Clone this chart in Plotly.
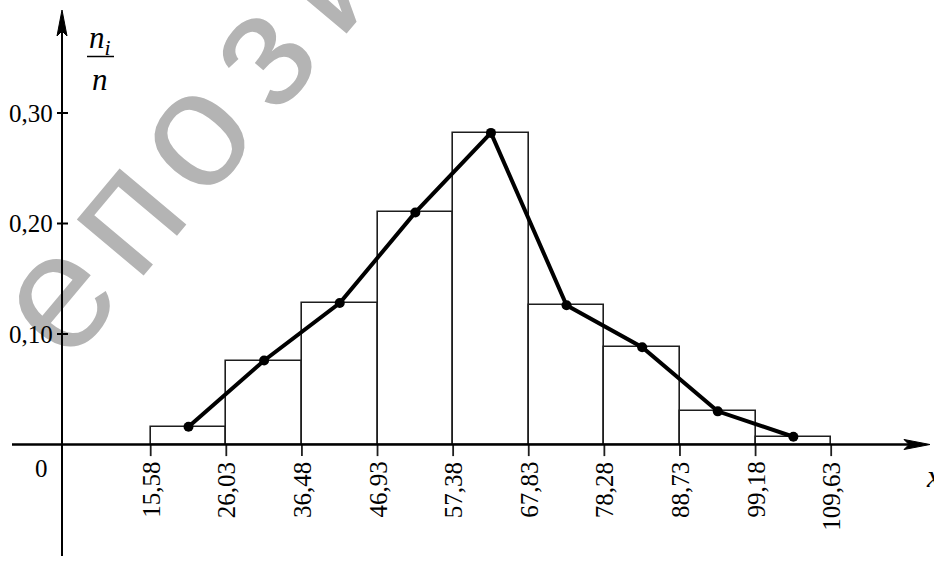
import plotly.graph_objects as go

# Interval boundaries of the grouped sample and their printed labels
edges = [15.58, 26.03, 36.48, 46.93, 57.38, 67.83, 78.28, 88.73, 99.18, 109.63]
edge_labels = ["15,58", "26,03", "36,48", "46,93", "57,38",
               "67,83", "78,28", "88,73", "99,18", "109,63"]

# Relative frequencies n_i / n for each interval
rel_freq = [0.016, 0.076, 0.128, 0.210, 0.282, 0.126, 0.088, 0.030, 0.007]

# Vertical axis ticks
y_ticks = [0.10, 0.20, 0.30]
y_tick_labels = ["0,10", "0,20", "0,30"]

# Background watermark letters
watermark = ["е", "п", "о", "з", "и"]

W, H = 934, 561
mids = [(a + b) / 2 for a, b in zip(edges[:-1], edges[1:])]
widths = [b - a for a, b in zip(edges[:-1], edges[1:])]

SERIF = "Times New Roman, Liberation Serif, Tinos, DejaVu Serif, serif"
INK = "#000000"


def px(x):
    return x / W


def py(y):
    return 1 - y / H


fig = go.Figure()

# Histogram of relative frequencies (outlined rectangles)
fig.add_trace(go.Bar(
    x=mids, y=rel_freq, width=widths,
    marker=dict(color="rgba(0,0,0,0)", line=dict(color="#1e1e1e", width=1.6)),
    hoverinfo="skip", showlegend=False,
))

# Frequency polygon through the interval midpoints
fig.add_trace(go.Scatter(
    x=mids, y=rel_freq, mode="lines+markers",
    line=dict(color=INK, width=4),
    marker=dict(color=INK, size=10),
    hoverinfo="skip", showlegend=False,
))

shapes = []
# watermark letters, carried as labels of invisible shapes below everything else
wm_pos = [(41, 284), (109, 203), (177, 122), (245, 41), (313, -40)]
for ch, (wx, wy) in zip(watermark, wm_pos):
    shapes.append(dict(
        type="rect", xref="paper", yref="paper", layer="below",
        x0=px(wx - 4), x1=px(wx + 4), y0=py(wy + 4), y1=py(wy - 4),
        line=dict(width=0), fillcolor="rgba(0,0,0,0)",
        label=dict(text=ch, textangle=-50, textposition="middle center",
                   font=dict(family="Liberation Sans, Arial, sans-serif", size=165,
                             color="#b4b4b4")),
    ))

# tick marks under the horizontal axis at every interval boundary
for e in edges:
    shapes.append(dict(type="line", xref="x", yref="y", x0=e, x1=e, y0=0, y1=-0.0105,
                       layer="above", line=dict(color="#1e1e1e", width=1.8)))
# horizontal axis with arrowhead
ax_y = 444.5
shapes.append(dict(type="line", xref="paper", yref="y", x0=px(12), x1=px(910), y0=0, y1=0,
                   layer="above", line=dict(color=INK, width=2.5)))
shapes.append(dict(type="path", xref="paper", yref="paper", layer="above",
                   path=f"M{px(930)},{py(ax_y)} L{px(904)},{py(ax_y - 5)} L{px(909)},{py(ax_y)} "
                        f"L{px(904)},{py(ax_y + 5)} Z",
                   fillcolor=INK, line=dict(color=INK, width=1)))
# vertical axis with arrowhead
shapes.append(dict(type="line", xref="paper", yref="paper", x0=px(62), x1=px(62),
                   y0=py(556), y1=py(30), layer="above", line=dict(color=INK, width=2)))
shapes.append(dict(type="path", xref="paper", yref="paper", layer="above",
                   path=f"M{px(62)},{py(10)} L{px(57)},{py(36)} L{px(62)},{py(31)} "
                        f"L{px(67)},{py(36)} Z",
                   fillcolor=INK, line=dict(color=INK, width=1)))
# vertical axis tick marks
for v in y_ticks:
    shapes.append(dict(type="line", xref="paper", yref="y", x0=px(57), x1=px(68), y0=v, y1=v,
                       layer="above", line=dict(color=INK, width=2)))
# fraction bar of the axis title
shapes.append(dict(type="line", xref="paper", yref="paper", x0=px(87), x1=px(114),
                   y0=py(56.5), y1=py(56.5), layer="above", line=dict(color=INK, width=1.5)))

annotations = []
for v, lab in zip(y_ticks, y_tick_labels):
    annotations.append(dict(
        text=lab, xref="paper", yref="y", x=px(55), y=v,
        xanchor="right", yanchor="middle", showarrow=False,
        font=dict(family=SERIF, size=25, color=INK),
    ))

# interval boundary labels, rotated
for e, lab in zip(edges, edge_labels):
    annotations.append(dict(
        text=lab, xref="x", yref="paper", x=e, y=py(460),
        xanchor="center", yanchor="top", showarrow=False, textangle=-90,
        font=dict(family=SERIF, size=25, color=INK),
    ))

# origin label
annotations.append(dict(text="0", xref="paper", yref="paper", x=px(41), y=py(468),
                        xanchor="center", yanchor="middle", showarrow=False,
                        font=dict(family=SERIF, size=25, color=INK)))
# axis titles
annotations.append(dict(text="<i>n</i><sub><i>i</i></sub>", xref="paper", yref="paper",
                        x=px(100), y=py(40), xanchor="center", yanchor="middle", showarrow=False,
                        font=dict(family=SERIF, size=31, color=INK)))
annotations.append(dict(text="<i>n</i>", xref="paper", yref="paper",
                        x=px(100), y=py(80), xanchor="center", yanchor="middle", showarrow=False,
                        font=dict(family=SERIF, size=31, color=INK)))
annotations.append(dict(text="<i>x</i>", xref="paper", yref="paper",
                        x=px(924), y=py(476), xanchor="left", yanchor="middle", showarrow=False,
                        font=dict(family=SERIF, size=31, color=INK)))

fig.update_layout(
    width=W, height=H,
    margin=dict(l=0, r=0, t=0, b=0),
    paper_bgcolor="white", plot_bgcolor="white",
    font=dict(family=SERIF),
    xaxis=dict(range=[-5.249, 123.84], visible=False, fixedrange=True),
    yaxis=dict(range=[-0.10543, 0.40226], visible=False, fixedrange=True),
    bargap=0,
    shapes=shapes,
    annotations=annotations,
)

fig.write_html("out.html", config={"displayModeBar": False})
